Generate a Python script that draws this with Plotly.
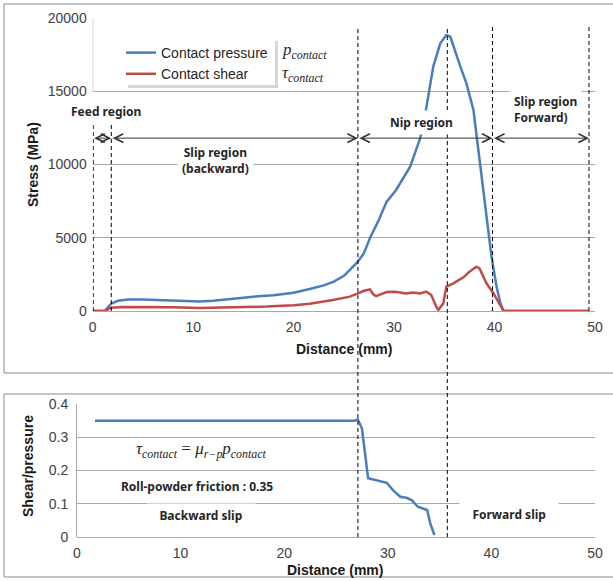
import plotly.graph_objects as go

W, H = 613, 581

# ---------------- data ----------------
dist_pressure = [0, 1.2, 1.5, 1.85, 2.5, 3.5, 5, 7, 9, 10.6, 12, 14, 16, 18, 20, 21.6, 23, 24, 25,
                 25.6, 26.4, 27.0, 27.6, 28.4, 29.25, 30.2, 31.6, 32.6, 33.2, 33.9, 34.6, 35.2,
                 35.6, 36.6, 37.2, 37.9, 38.5, 39.0, 39.4, 39.7, 40.2, 40.6, 40.9, 45, 49.4]
contact_pressure = [0, 0, 250, 500, 700, 780, 790, 740, 680, 640, 700, 860, 980, 1080, 1250, 1500,
                    1750, 2000, 2400, 2800, 3370, 3950, 4980, 6100, 7450, 8260, 9850, 11790, 13840,
                    16680, 18270, 18840, 18720, 16680, 15540, 13720, 10300, 7500, 5000, 3700, 1660,
                    500, 0, 0, 0]

dist_shear = [0, 1.2, 1.6, 1.85, 3, 5, 8, 10.6, 13, 17.3, 20, 21.6, 23.9, 25.6, 26.4, 27.0, 27.6,
              27.9, 28.2, 29.25, 30.1, 31.2, 31.9, 32.6, 33.2, 33.7, 34.2, 34.4, 34.9, 35.2, 35.9,
              36.9, 37.5, 38.2, 38.5, 39.2, 39.9, 40.9, 45, 49.4]
contact_shear = [0, 0, 150, 230, 280, 290, 260, 200, 240, 300, 400, 500, 750, 980, 1200, 1380, 1480,
                 1150, 1020, 1300, 1320, 1200, 1260, 1200, 1330, 1090, 300, 70, 520, 1660, 1890,
                 2300, 2680, 3020, 2910, 1890, 1200, 0, 0, 0]

dist_ratio = [1.74, 26.8, 27.1, 27.5, 28.1, 28.9, 29.9, 30.5, 31.2, 31.8, 32.3, 32.9, 33.3, 33.8,
              34.1, 34.5]
shear_pressure = [0.35, 0.35, 0.354, 0.327, 0.177, 0.171, 0.163, 0.141, 0.121, 0.118, 0.111,
                  0.091, 0.086, 0.081, 0.041, 0.006]

region_bounds = [0.05, 1.85, 26.4, 35.3, 39.8, 49.4]     # mm, on top axis
region_arrows = [(0, 1.85), (1.85, 26.4), (26.4, 39.8), (39.8, 49.4)]

stress_ticks = [0, 5000, 10000, 15000, 20000]
stress_labels = ["0", "5000", "10000", "15000", "20000"]
ratio_ticks = [0, 0.1, 0.2, 0.3, 0.4]
ratio_labels = ["0", "0.1", "0.2", "0.3", "0.4"]
dist_ticks = [0, 10, 20, 30, 40, 50]
dist_labels = ["0", "10", "20", "30", "40", "50"]

BLUE = "#4a7ebb"
RED = "#be4b48"
GRID = "#a8a8a8"
TICKC = "#404040"
FRAME = "#8a8a8a"


def px_x(p):
    return p / W


def px_y(p):
    return 1 - p / H


fig = go.Figure()
fig.add_trace(go.Scatter(x=dist_pressure, y=contact_pressure, mode="lines", name="Contact pressure",
                         line=dict(color=BLUE, width=2.5), xaxis="x", yaxis="y"))
fig.add_trace(go.Scatter(x=dist_shear, y=contact_shear, mode="lines", name="Contact shear",
                         line=dict(color=RED, width=2.5), xaxis="x", yaxis="y"))
fig.add_trace(go.Scatter(x=dist_ratio, y=shear_pressure, mode="lines", showlegend=False,
                         line=dict(color=BLUE, width=2.5), xaxis="x2", yaxis="y2"))

tickfont = dict(family="Liberation Sans, Arial", size=14, color=TICKC)
axis_common = dict(tickfont=tickfont, ticks="", fixedrange=True, automargin=False)

fig.update_layout(
    width=W, height=H,
    margin=dict(l=0, r=0, t=0, b=0, autoexpand=False),
    paper_bgcolor="white", plot_bgcolor="white",
    showlegend=True,
    legend=dict(x=px_x(121), y=px_y(37), xanchor="left", yanchor="top",
                bgcolor="rgba(0,0,0,0)", borderwidth=0, tracegroupgap=2,
                font=dict(family="Liberation Sans, Arial", size=14, color="#262626")),
    xaxis=dict(domain=[px_x(92.7), px_x(595)], range=[0, 50], tickvals=dist_ticks,
               ticktext=dist_labels, showline=False,
               showgrid=False, zeroline=False, anchor="y", ticklabelstandoff=6, **axis_common),
    yaxis=dict(domain=[px_y(311), px_y(18)], range=[0, 20000], tickvals=stress_ticks,
               ticktext=stress_labels, showline=False,
               showgrid=True, gridcolor=GRID, gridwidth=1, zeroline=True, zerolinecolor=GRID,
               zerolinewidth=1, anchor="x", ticklabelstandoff=5, **axis_common),
    xaxis2=dict(domain=[px_x(77), px_x(595)], range=[0, 50], tickvals=dist_ticks,
                ticktext=dist_labels, showline=False,
                showgrid=False, zeroline=False, anchor="y2", ticklabelstandoff=6, **axis_common),
    yaxis2=dict(domain=[px_y(537), px_y(404)], range=[0, 0.4], tickvals=ratio_ticks,
                ticktext=ratio_labels, showline=True, linecolor=GRID, linewidth=1,
                showgrid=True, gridcolor=GRID, gridwidth=1, zeroline=True, zerolinecolor=GRID,
                zerolinewidth=1, anchor="x2", ticklabelstandoff=5, **axis_common),
)

shapes = []
# panel frames
shapes.append(dict(type="rect", xref="paper", yref="paper", x0=px_x(4), x1=1.05, y0=px_y(373),
                   y1=px_y(4), line=dict(color=FRAME, width=1), layer="below"))
shapes.append(dict(type="rect", xref="paper", yref="paper", x0=px_x(4), x1=1.05, y0=px_y(577),
                   y1=px_y(394), line=dict(color=FRAME, width=1), layer="below"))
# legend box with soft shadow
shapes.append(dict(type="rect", xref="paper", yref="paper", x0=px_x(128), x1=px_x(278),
                   y0=px_y(88), y1=px_y(41), fillcolor="#d6d6d6", line=dict(width=0)))
shapes.append(dict(type="rect", xref="paper", yref="paper", x0=px_x(125), x1=px_x(275),
                   y0=px_y(85), y1=px_y(38), fillcolor="white", line=dict(width=0)))
# left axis piece at top
shapes.append(dict(type="line", xref="x", yref="y", x0=0, x1=0, y0=15000, y1=20000,
                   line=dict(color=GRID, width=1)))
# vertical dashed region boundaries
for i, b in enumerate(region_bounds):
    top = px_y(123) if i < 2 else px_y(27)
    bottom = px_y(537) if i in (2, 3) else px_y(311)
    shapes.append(dict(type="line", xref="x", yref="paper", x0=b, x1=b, y0=bottom, y1=top,
                       line=dict(color="black", width=1, dash="4px,3px"), layer="above"))
fig.update_layout(shapes=shapes)

ann = []
label_font = dict(family="Noto Sans", size=12, color="#262626")
title_font = dict(family="Liberation Sans, Arial", size=14, color="#1a1a1a")
serif_font = dict(family="Liberation Serif", size=17, color="#262626")
arrow_y = 11800
for a, b in region_arrows:
    ann.append(dict(xref="x", yref="y", axref="x", ayref="y", x=b, y=arrow_y, ax=a, ay=arrow_y,
                    text="", showarrow=True, arrowhead=5, startarrowhead=5, arrowside="end+start",
                    arrowsize=1.7, arrowwidth=1, arrowcolor="#333333", standoff=0, startstandoff=0))

C = dict(xanchor="center", yanchor="middle", showarrow=False)
ann += [
    dict(xref="x", yref="y", x=1.3, y=13650, text="<b>Feed region</b>",
         font=label_font, bgcolor="white", borderpad=3, **C),
    dict(xref="x", yref="y", x=12.25, y=10300, text="<b>Slip region<br>(backward)</b>",
         font=label_font, bgcolor="white", borderpad=4, **C),
    dict(xref="x", yref="y", x=32.7, y=12900, text="<b>Nip region</b>",
         font=label_font, bgcolor="white", borderpad=3, **C),
    dict(xref="x", yref="y", x=41.4, y=13720, xanchor="left", yanchor="middle", align="left",
         text="<b>Slip region<br>Forward)</b>", showarrow=False, font=label_font,
         bgcolor="white", borderpad=4),
    # symbol labels next to legend
    dict(xref="paper", yref="paper", x=px_x(280), y=px_y(51), xanchor="left", yanchor="middle",
         text="<i>p</i><sub><i>contact</i></sub>", showarrow=False, font=serif_font),
    dict(xref="paper", yref="paper", x=px_x(280), y=px_y(74), xanchor="left", yanchor="middle",
         text="<i>τ</i><sub><i>contact</i></sub>", showarrow=False, font=serif_font),
    # axis titles
    dict(xref="paper", yref="paper", x=px_x(33), y=px_y(165), text="<b>Stress (MPa)</b>",
         textangle=-90, font=title_font, **C),
    dict(xref="paper", yref="paper", x=px_x(344), y=px_y(349), text="<b>Distance (mm)</b>",
         font=title_font, **C),
    dict(xref="paper", yref="paper", x=px_x(28), y=px_y(466), text="<b>Shear/pressure</b>",
         textangle=-90, font=title_font, **C),
    dict(xref="paper", yref="paper", x=px_x(335), y=px_y(570), text="<b>Distance (mm)</b>",
         font=title_font, **C),
    # bottom panel notes
    dict(xref="x2", yref="y2", x=12.0, y=0.262,
         text="<i>τ</i><sub><i>contact</i></sub> = <i>μ</i><sub><i>r−p</i></sub><i>p</i><sub><i>contact</i></sub>",
         font=serif_font, **C),
    dict(xref="x2", yref="y2", x=11.6, y=0.153, text="<b>Roll-powder friction : 0.35</b>",
         font=label_font, **C),
    dict(xref="x2", yref="y2", x=12.0, y=0.064,
         text="&nbsp;&nbsp;&nbsp;<b>Backward slip</b>&nbsp;&nbsp;&nbsp;",
         font=label_font, bgcolor="white", borderpad=3, **C),
    dict(xref="x2", yref="y2", x=41.7, y=0.069,
         text="&nbsp;&nbsp;&nbsp;<b>Forward slip</b>&nbsp;&nbsp;&nbsp;",
         font=label_font, bgcolor="white", borderpad=3, **C),
]
fig.update_layout(annotations=ann)

fig.write_html("out.html", config={"displayModeBar": False},
               post_script="document.body.style.margin='0px';")
